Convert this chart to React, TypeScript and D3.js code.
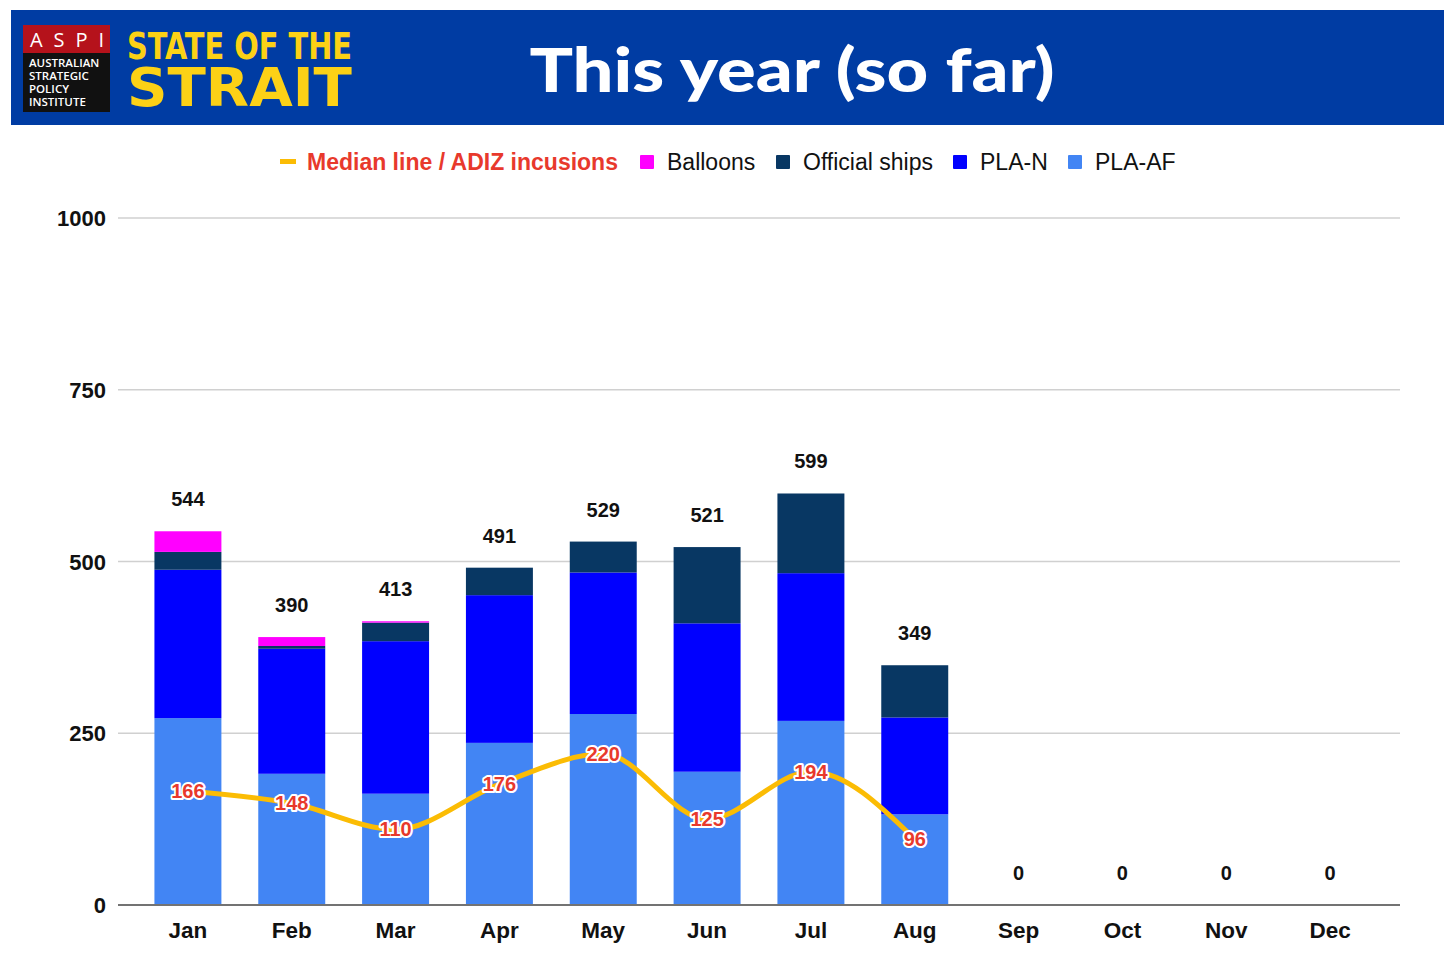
import React from 'react';
import * as d3 from 'd3';

const months = ['Jan', 'Feb', 'Mar', 'Apr', 'May', 'Jun', 'Jul', 'Aug', 'Sep', 'Oct', 'Nov', 'Dec'];
const plaAF = [272, 191, 162, 236, 278, 194, 268, 132, 0, 0, 0, 0];
const plaN = [216, 182, 222, 215, 206, 216, 215, 141, 0, 0, 0, 0];
const officialShips = [26, 4, 27, 40, 45, 111, 116, 76, 0, 0, 0, 0];
const balloons = [30, 13, 2, 0, 0, 0, 0, 0, 0, 0, 0, 0];
const medianLine = [166, 148, 110, 176, 220, 125, 194, 96];
const yTicks = [0, 250, 500, 750, 1000];

const seriesKeys = ['PLA-AF', 'PLA-N', 'Official ships', 'Balloons'];
const seriesColors: Record<string, string> = {
  'PLA-AF': '#4285f4',
  'PLA-N': '#0000ff',
  'Official ships': '#083763',
  Balloons: '#ff00ff',
};

const W = 1456;
const H = 978;
const FONT = '"Liberation Sans", Arial, sans-serif';

export default function App() {
  const rows = months.map((m, i) => ({
    month: m,
    'PLA-AF': plaAF[i],
    'PLA-N': plaN[i],
    'Official ships': officialShips[i],
    Balloons: balloons[i],
  }));
  const totals = rows.map((r) => seriesKeys.reduce((s, k) => s + (r as any)[k], 0));

  const x = d3.scaleBand().domain(months).range([136, 1382]).paddingInner(0.355).paddingOuter(0.1775);
  const y = d3.scaleLinear().domain([0, 1000]).range([905, 218]);
  const stacked = d3.stack<any>().keys(seriesKeys)(rows);

  const cx = (m: string) => (x(m) || 0) + x.bandwidth() / 2;
  const line = d3
    .line<number>()
    .x((_, i) => cx(months[i]))
    .y((d) => y(d))
    .curve(d3.curveMonotoneX);

  const legend = [
    { label: 'Median line / ADIZ incusions', x: 280, kind: 'line' },
    { label: 'Balloons', x: 640, kind: 'Balloons' },
    { label: 'Official ships', x: 776, kind: 'Official ships' },
    { label: 'PLA-N', x: 953, kind: 'PLA-N' },
    { label: 'PLA-AF', x: 1068, kind: 'PLA-AF' },
  ];

  return (
    <svg
      width={W}
      height={H}
      viewBox={`0 0 ${W} ${H}`}
      style={{ position: 'absolute', left: 0, top: 0, background: '#fff' }}
      fontFamily={FONT}
    >
      <rect x={0} y={0} width={W} height={H} fill="#fff" />

      {/* Header band */}
      <rect x={11} y={10} width={1433} height={115} fill="#003ca3" />
      <g>
        <rect x={23} y={25} width={87} height={28} fill="#b5121b" />
        <rect x={23} y={53} width={87} height={59} fill="#111" />
        <text x={30} y={47} fill="#fff" fontSize={20} textLength={74} lengthAdjust="spacing" fontFamily='"Open Sans", sans-serif'>
          ASPI
        </text>
        {['AUSTRALIAN', 'STRATEGIC', 'POLICY', 'INSTITUTE'].map((t, i) => (
          <text key={t} x={29} y={67 + i * 13} fill="#fff" fontSize={11.5} fontWeight={600} fontFamily='"Open Sans", sans-serif'>
            {t}
          </text>
        ))}
        <text x={127} y={59} fill="#fcd116" fontSize={38} fontWeight={700} textLength={225} lengthAdjust="spacingAndGlyphs" fontFamily='"DejaVu Sans Condensed", "DejaVu Sans", sans-serif'>
          STATE OF THE
        </text>
        <text x={127} y={106} fill="#fcd116" fontSize={54} fontWeight={700} textLength={225} lengthAdjust="spacingAndGlyphs" fontFamily='"DejaVu Sans Condensed", "DejaVu Sans", sans-serif'>
          STRAIT
        </text>
      </g>
      <text x={792} y={92} textAnchor="middle" fill="#fff" fontSize={60} fontWeight={900} textLength={525} lengthAdjust="spacingAndGlyphs" fontFamily='Lato, "Open Sans", sans-serif'>
        This year (so far)
      </text>

      {/* Legend */}
      <g fontSize={23}>
        {legend.map((l) =>
          l.kind === 'line' ? (
            <g key={l.label}>
              <rect x={l.x} y={159} width={16} height={5} fill="#fbbc04" />
              <text x={l.x + 27} y={170} fill="#e8392c" fontWeight={700}>
                {l.label}
              </text>
            </g>
          ) : (
            <g key={l.label}>
              <rect x={l.x} y={155} width={14} height={14} rx={1} fill={seriesColors[l.kind]} />
              <text x={l.x + 27} y={170} fill="#111">
                {l.label}
              </text>
            </g>
          )
        )}
      </g>

      {/* Grid and y axis */}
      {yTicks.map((t) => (
        <g key={t}>
          {t !== 0 && <line x1={118} x2={1400} y1={y(t)} y2={y(t)} stroke="#d0d0d0" strokeWidth={1.3} />}
          <text x={106} y={y(t) + 8} textAnchor="end" fontSize={22} fontWeight={700} fill="#111">
            {t}
          </text>
        </g>
      ))}

      {/* Stacked bars */}
      {stacked.map((s) => (
        <g key={s.key} fill={seriesColors[s.key]}>
          {s.map((d, i) =>
            d[1] - d[0] > 0 ? (
              <rect
                key={months[i]}
                x={x(months[i])}
                width={x.bandwidth()}
                y={y(d[1])}
                height={y(d[0]) - y(d[1])}
              />
            ) : null
          )}
        </g>
      ))}

      <line x1={118} x2={1400} y1={y(0)} y2={y(0)} stroke="#737373" strokeWidth={2} />

      {/* Totals */}
      {totals.map((t, i) => (
        <text key={months[i]} x={cx(months[i])} y={y(t) - 25} textAnchor="middle" fontSize={20} fontWeight={700} fill="#111">
          {t}
        </text>
      ))}

      {/* Median line */}
      <path d={line(medianLine) || ''} fill="none" stroke="#fbbc04" strokeWidth={5} strokeLinejoin="round" strokeLinecap="round" />
      {medianLine.map((v, i) => (
        <text
          key={months[i]}
          x={cx(months[i])}
          y={y(v) + 7}
          textAnchor="middle"
          fontSize={20}
          fontWeight={700}
          fill="#e8392c"
          stroke="#fff"
          strokeWidth={4}
          paintOrder="stroke"
          strokeLinejoin="round"
        >
          {v}
        </text>
      ))}

      {/* X axis labels */}
      {months.map((m) => (
        <text key={m} x={cx(m)} y={938} textAnchor="middle" fontSize={22.5} fontWeight={700} fill="#111">
          {m}
        </text>
      ))}
    </svg>
  );
}
